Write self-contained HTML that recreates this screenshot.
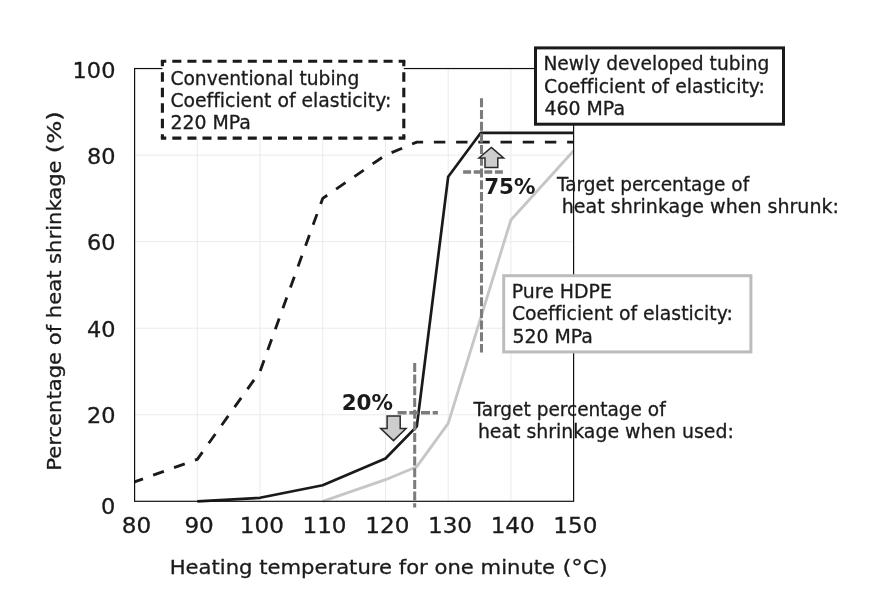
<!DOCTYPE html>
<html><head><meta charset="utf-8"><title>Heat shrinkage chart</title>
<style>
html,body{margin:0;padding:0;background:#fff;}
body{width:886px;height:609px;overflow:hidden;}
svg{display:block;font-family:"DejaVu Sans","Liberation Sans",sans-serif;fill:#1a1a1a;}
text{stroke:#1a1a1a;stroke-width:0.3px;paint-order:stroke fill;}
.tick{font-size:21.4px;}
.lbl{font-size:18.9px;font-variant-ligatures:none;}
.ax{font-size:20.3px;font-variant-ligatures:none;}
.b{font-weight:bold;font-size:20.4px;stroke:none;}
</style></head><body>
<svg width="886" height="609" viewBox="0 0 886 609">
<rect width="886" height="609" fill="#fff"/>
<g stroke="#eaeaea" stroke-width="1" fill="none"><line x1="197.3" y1="68.55" x2="197.3" y2="501.3"/><line x1="260.0" y1="68.55" x2="260.0" y2="501.3"/><line x1="322.7" y1="68.55" x2="322.7" y2="501.3"/><line x1="385.5" y1="68.55" x2="385.5" y2="501.3"/><line x1="448.2" y1="68.55" x2="448.2" y2="501.3"/><line x1="510.9" y1="68.55" x2="510.9" y2="501.3"/><line x1="134.6" y1="414.8" x2="573.6" y2="414.8"/><line x1="134.6" y1="328.2" x2="573.6" y2="328.2"/><line x1="134.6" y1="241.7" x2="573.6" y2="241.7"/><line x1="134.6" y1="155.1" x2="573.6" y2="155.1"/></g>
<polyline points="322.7,501.3 385.5,479.7 416.8,466.7 448.2,423.4 510.9,220.0 573.6,150.8" fill="none" stroke="#c6c6c6" stroke-width="2.85" stroke-linejoin="round"/>
<polyline points="134.6,481.8 197.3,459.3 260.0,371.5 322.7,198.4 385.5,155.1 416.8,142.1 573.6,142.1" fill="none" stroke="#1a1a1a" stroke-width="2.85" stroke-dasharray="11.4 10.8" stroke-dashoffset="2.5" stroke-linejoin="round"/>
<polyline points="197.3,501.3 260.0,497.8 322.7,485.3 385.5,458.5 416.8,426.4 448.2,176.7 480.8,132.8 573.6,132.8" fill="none" stroke="#1a1a1a" stroke-width="2.7" stroke-linejoin="round"/>
<rect x="134.6" y="68.55" width="439.0" height="432.75" fill="none" stroke="#111" stroke-width="1.2"/>
<g stroke="#7c7c7c" stroke-width="3.05" fill="none" stroke-dasharray="9 2.7">
<line x1="481.5" y1="98.3" x2="481.5" y2="352.6"/>
<line x1="414.7" y1="362.9" x2="414.7" y2="507.5"/>
<line x1="463.1" y1="172" x2="503.9" y2="172" stroke-dasharray="8 2.6" stroke-width="3.4"/>
<line x1="397.6" y1="412.8" x2="437.9" y2="412.8" stroke-width="3.4"/>
</g>
<polygon points="491.3,147.4 503.6,157.9 497.8,157.9 497.8,167.4 485,167.4 485,157.9 479,157.9" fill="#cdcdcd" stroke="#2a2a2a" stroke-width="1.5" stroke-linejoin="miter"/>
<polygon points="387.1,416 400.2,416 400.2,428.6 406,428.6 393.5,440.6 380.7,428.6 387.1,428.6" fill="#cdcdcd" stroke="#2a2a2a" stroke-width="1.5" stroke-linejoin="miter"/>
<rect x="162.4" y="61.3" width="241.4" height="76.8" fill="#fff"/>
<g stroke="#1a1a1a" stroke-width="3.1" fill="none" stroke-linecap="butt">
<line x1="160.85" y1="61.3" x2="405.35" y2="61.3" stroke-dasharray="9.05 6.04" stroke-dashoffset="3.64"/>
<line x1="160.85" y1="138.1" x2="405.35" y2="138.1" stroke-dasharray="9.05 6.04" stroke-dashoffset="3.64"/>
<line x1="162.4" y1="61.3" x2="162.4" y2="138.1" stroke-dasharray="9.5 6" stroke-dashoffset="4.6"/>
<line x1="403.8" y1="61.3" x2="403.8" y2="138.1" stroke-dasharray="9.5 6" stroke-dashoffset="4.6"/>
</g>
<rect x="535.5" y="47.9" width="248" height="76.3" fill="#fff" stroke="#1a1a1a" stroke-width="3"/>
<rect x="503.7" y="275.7" width="247.2" height="76.2" fill="#fff" stroke="#bcbcbc" stroke-width="3"/>
<g class="lbl">
<text x="170.4" y="84.5" textLength="188.9" lengthAdjust="spacingAndGlyphs">Conventional tubing</text>
<text x="170.4" y="106.9" textLength="220.9" lengthAdjust="spacingAndGlyphs">Coefficient of elasticity:</text>
<text x="170.4" y="129.3">220 MPa</text>
<text x="543.4" y="70.3" textLength="226.0" lengthAdjust="spacingAndGlyphs">Newly developed tubing</text>
<text x="544" y="92.6" textLength="220.9" lengthAdjust="spacingAndGlyphs">Coefficient of elasticity:</text>
<text x="544.5" y="115.2">460 MPa</text>
<text x="511.8" y="298">Pure HDPE</text>
<text x="511.9" y="320.2" textLength="220.9" lengthAdjust="spacingAndGlyphs">Coefficient of elasticity:</text>
<text x="512.4" y="342.7">520 MPa</text>
<text x="557" y="190.7" textLength="192.2" lengthAdjust="spacingAndGlyphs">Target percentage of</text>
<text x="561.8" y="213.4" textLength="277.1" lengthAdjust="spacingAndGlyphs">heat shrinkage when shrunk:</text>
<text x="473.5" y="415.7" textLength="192.2" lengthAdjust="spacingAndGlyphs">Target percentage of</text>
<text x="477.9" y="438.4" textLength="255.9" lengthAdjust="spacingAndGlyphs">heat shrinkage when used:</text>
</g>
<text class="b" x="484.2" y="194.1" textLength="51.3" lengthAdjust="spacingAndGlyphs">75%</text>
<text class="b" x="341.7" y="409.7" textLength="51.3" lengthAdjust="spacingAndGlyphs">20%</text>
<g class="tick"><text x="136.4" y="533.4" text-anchor="middle" textLength="29.4" lengthAdjust="spacingAndGlyphs">80</text><text x="199.1" y="533.4" text-anchor="middle" textLength="29.4" lengthAdjust="spacingAndGlyphs">90</text><text x="261.8" y="533.4" text-anchor="middle" textLength="44.1" lengthAdjust="spacingAndGlyphs">100</text><text x="324.5" y="533.4" text-anchor="middle" textLength="44.1" lengthAdjust="spacingAndGlyphs">110</text><text x="387.3" y="533.4" text-anchor="middle" textLength="44.1" lengthAdjust="spacingAndGlyphs">120</text><text x="450.0" y="533.4" text-anchor="middle" textLength="44.1" lengthAdjust="spacingAndGlyphs">130</text><text x="512.7" y="533.4" text-anchor="middle" textLength="44.1" lengthAdjust="spacingAndGlyphs">140</text><text x="575.4" y="533.4" text-anchor="middle" textLength="44.1" lengthAdjust="spacingAndGlyphs">150</text><text x="115.4" y="514.1" text-anchor="end" textLength="14.3" lengthAdjust="spacingAndGlyphs">0</text><text x="115.4" y="423.2" text-anchor="end" textLength="28.5" lengthAdjust="spacingAndGlyphs">20</text><text x="115.4" y="336.7" text-anchor="end" textLength="28.5" lengthAdjust="spacingAndGlyphs">40</text><text x="115.4" y="250.2" text-anchor="end" textLength="28.5" lengthAdjust="spacingAndGlyphs">60</text><text x="115.4" y="163.6" text-anchor="end" textLength="28.5" lengthAdjust="spacingAndGlyphs">80</text><text x="115.4" y="78.4" text-anchor="end" textLength="42.8" lengthAdjust="spacingAndGlyphs">100</text></g>
<text class="ax" x="169.7" y="574" textLength="385.4" lengthAdjust="spacingAndGlyphs">Heating temperature for one minute</text>
<text class="ax" x="562.4" y="574" textLength="45.4" lengthAdjust="spacingAndGlyphs">(°C)</text>
<text class="ax" transform="translate(61.3,470.7) rotate(-90)" textLength="310.3" lengthAdjust="spacingAndGlyphs">Percentage of heat shrinkage</text>
<text class="ax" transform="translate(61.3,153.3) rotate(-90)" textLength="42.1" lengthAdjust="spacingAndGlyphs">(%)</text>
</svg>
</body></html>
